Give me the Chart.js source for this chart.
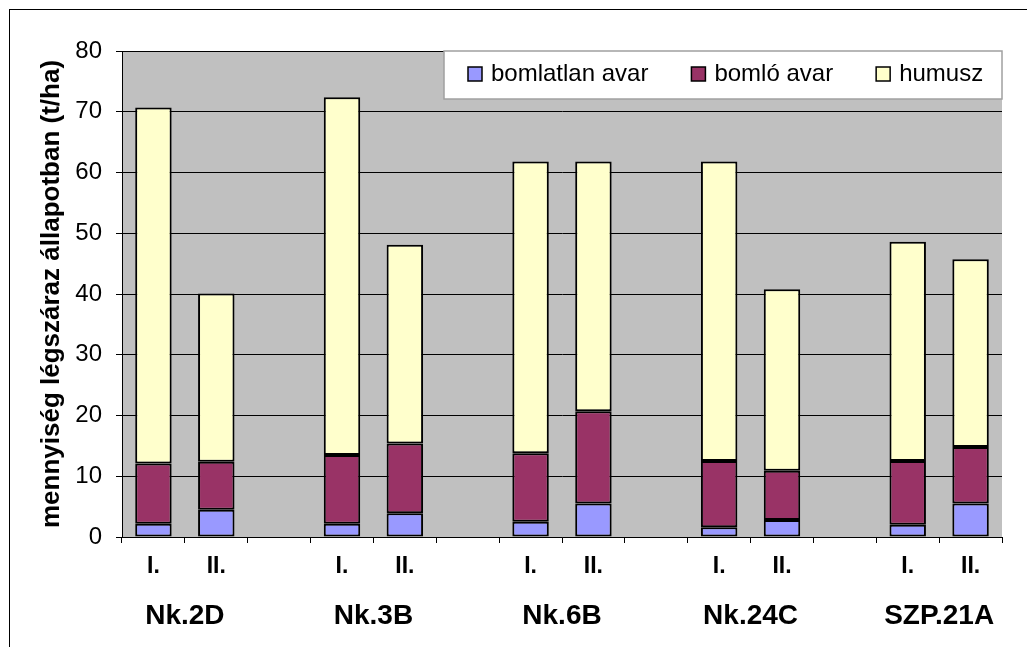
<!DOCTYPE html>
<html>
<head>
<meta charset="utf-8">
<script src="https://cdn.jsdelivr.net/npm/chart.js@4/dist/chart.umd.min.js"></script>
<style>
  body { margin: 0; background: #fff; overflow: hidden; }
  #wrap { position: relative; width: 1027px; height: 647px; }
  #frame { position: absolute; left: 9px; top: 9px; width: 1030px; height: 650px; border: 1px solid #000; box-sizing: border-box; pointer-events: none; }
  canvas { position: absolute; left: 0; top: 0; }
</style>
</head>
<body>
<div id="wrap">
  <canvas id="chart" width="1027" height="647"></canvas>
  <div id="frame"></div>
</div>
<script>
// bar labels (empty slots keep the gap between the sites)
const barLabels = ['I.', 'II.', '', 'I.', 'II.', '', 'I.', 'II.', '', 'I.', 'II.', '', 'I.', 'II.'];
const groupNames = ['Nk.2D', 'Nk.3B', 'Nk.6B', 'Nk.24C', 'SZP.21A'];
const seriesNames = ['bomlatlan avar', 'bomló avar', 'humusz'];

// t/ha
const bomlatlan = [2.2, 4.5, null, 2.2, 3.9, null, 2.5, 5.5, null, 1.6, 2.8, null, 2.0, 5.5];
const bomlo     = [9.9, 7.9, null, 11.3, 11.5, null, 11.3, 15.2, null, 10.9, 8.1, null, 10.5, 9.3];
const humusz    = [58.6, 27.7, null, 58.9, 32.7, null, 48.0, 41.1, null, 49.3, 29.9, null, 36.1, 30.9];

const colors = ['#9999FF', '#993366', '#FFFFCC'];
const fontFamily = '"Liberation Sans", Arial, sans-serif';

const plotBackground = {
  id: 'plotBackground',
  beforeDraw(chart) {
    const { ctx, chartArea: a } = chart;
    ctx.save();
    ctx.fillStyle = '#C0C0C0';
    ctx.fillRect(a.left, a.top, a.right - a.left, a.bottom - a.top);
    ctx.restore();
  }
};

const groupLabels = {
  id: 'groupLabels',
  afterDraw(chart) {
    const { ctx } = chart;
    const x = chart.scales.x;
    ctx.save();
    ctx.font = 'bold 28px ' + fontFamily;
    ctx.fillStyle = '#000';
    ctx.textAlign = 'center';
    ctx.textBaseline = 'middle';
    groupNames.forEach((name, g) => {
      const mid = (x.getPixelForValue(g * 3) + x.getPixelForValue(g * 3 + 1)) / 2;
      ctx.fillText(name, mid, 616);
    });
    ctx.restore();
  }
};

const boxLegend = {
  id: 'boxLegend',
  afterDraw(chart) {
    const { ctx, chartArea: a } = chart;
    const left = 444, top = a.top, right = a.right, bottom = a.top + 48;
    ctx.save();
    ctx.fillStyle = '#fff';
    ctx.fillRect(left, top, right - left, bottom - top);
    ctx.strokeStyle = '#A0A0A0';
    ctx.lineWidth = 1.5;
    ctx.strokeRect(left, top, right - left, bottom - top);
    ctx.font = '24px ' + fontFamily;
    ctx.textBaseline = 'middle';
    const cy = top + 23;
    let px = left + 24;
    chart.data.datasets.forEach(ds => {
      ctx.fillStyle = ds.backgroundColor;
      ctx.fillRect(px, cy - 7, 14, 14);
      ctx.strokeStyle = '#000';
      ctx.lineWidth = 1.5;
      ctx.strokeRect(px, cy - 7, 14, 14);
      ctx.fillStyle = '#000';
      ctx.fillText(ds.label, px + 23, cy);
      px += 23 + ctx.measureText(ds.label).width + 43;
    });
    ctx.restore();
  }
};

new Chart(document.getElementById('chart'), {
  type: 'bar',
  data: {
    labels: barLabels,
    datasets: [
      { label: seriesNames[0], data: bomlatlan, backgroundColor: colors[0] },
      { label: seriesNames[1], data: bomlo, backgroundColor: colors[1] },
      { label: seriesNames[2], data: humusz, backgroundColor: colors[2] }
    ].map(d => ({ ...d, borderColor: '#000', borderWidth: 2, borderSkipped: false, categoryPercentage: 1, barPercentage: 0.58 }))
  },
  options: {
    responsive: false,
    animation: false,
    layout: { padding: { top: 51, left: 0, right: 25, bottom: 0 } },
    plugins: { legend: { display: false }, tooltip: { enabled: false } },
    scales: {
      x: {
        stacked: true,
        grid: { offset: true, drawOnChartArea: false, tickLength: 6, color: '#000' },
        border: { color: '#000', width: 1 },
        ticks: { color: '#000', padding: 10, maxRotation: 0, autoSkip: false, font: { family: fontFamily, size: 23, weight: 'bold' } },
        afterFit(scale) { scale.height = 110; }
      },
      y: {
        stacked: true,
        min: 0,
        max: 80,
        grid: { color: '#000', lineWidth: 1, tickLength: 6, tickColor: '#000' },
        border: { color: '#000', width: 1 },
        ticks: { stepSize: 10, color: '#000', padding: 14, font: { family: fontFamily, size: 24 } },
        title: {
          display: true,
          text: 'mennyiség légszáraz állapotban (t/ha)',
          color: '#000',
          font: { family: fontFamily, size: 26, weight: 'bold' },
          padding: { top: 36, bottom: 0 }
        },
        afterFit(scale) { scale.width = 122; }
      }
    }
  },
  plugins: [plotBackground, groupLabels, boxLegend]
});
</script>
</body>
</html>
